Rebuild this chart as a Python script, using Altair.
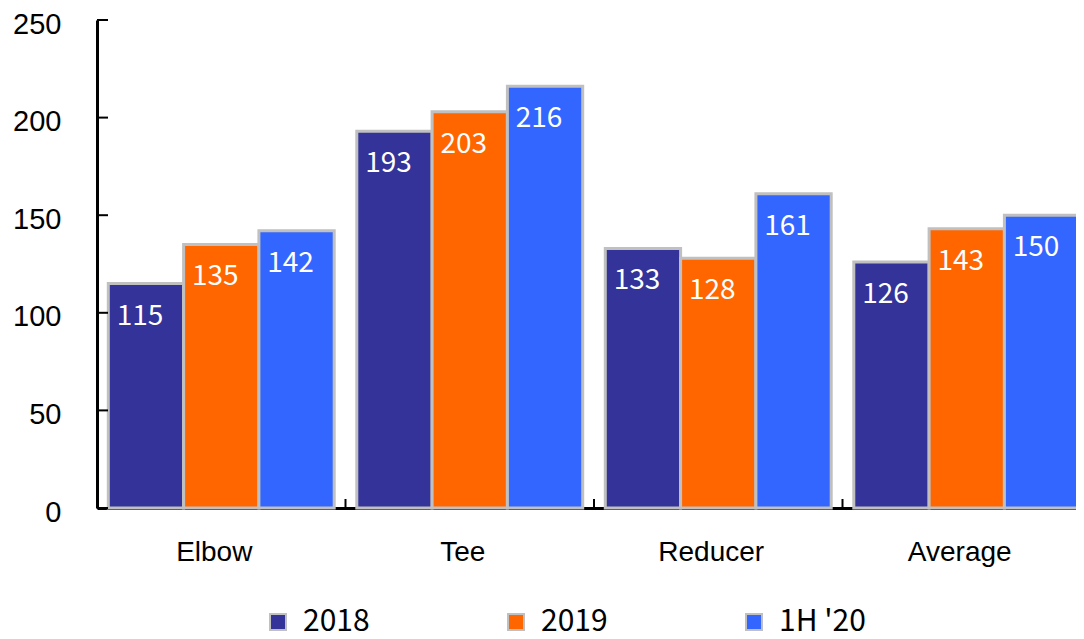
import altair as alt
import pandas as pd

categories = ["Elbow", "Tee", "Reducer", "Average"]
series = ["2018", "2019", "1H '20"]
values_2018 = [115, 193, 133, 126]
values_2019 = [135, 203, 128, 143]
values_1h20 = [142, 216, 161, 150]
y_ticks = [0, 50, 100, 150, 200, 250]
colors = ["#333399", "#FF6600", "#3366FF"]

rows = []
for s, vals in zip(series, [values_2018, values_2019, values_1h20]):
    for c, v in zip(categories, vals):
        rows.append({"category": c, "series": s, "value": v})
df = pd.DataFrame(rows)
df_yt = pd.DataFrame({"value": y_ticks})
df_gt = pd.DataFrame({"category": categories[1:]})

FONT_K = "Noto Sans CJK KR"

x_scale = alt.Scale(domain=categories, paddingInner=0, paddingOuter=0, range=[0, 994])
y_scale = alt.Scale(domain=[0, 250], nice=False)
off_scale = alt.Scale(domain=series, paddingInner=0, paddingOuter=0.15)
col_scale = alt.Scale(domain=series, range=colors)

x_axis = alt.Axis(title=None, ticks=False, labelFont="Liberation Sans",
                  labelFontSize=28, labelColor="black", labelPadding=30,
                  labelOffset=-7, labelAngle=0, domainColor="black", domainWidth=3)
y_axis = alt.Axis(title=None, values=y_ticks, ticks=False, grid=False,
                  labelFont="Liberation Sans", labelFontSize=29, labelColor="black",
                  labelPadding=36, labelOffset=4, domainColor="black", domainWidth=3)

x_enc = alt.X("category:N", scale=x_scale, sort=categories, axis=x_axis)
y_enc = alt.Y("value:Q", scale=y_scale, axis=y_axis)
off_enc = alt.XOffset("series:N", scale=off_scale, sort=series)

base = alt.Chart(df)
bars = base.mark_bar(stroke="#C0C0C0", strokeWidth=3).encode(
    x=x_enc,
    xOffset=off_enc,
    y=y_enc,
    color=alt.Color("series:N", scale=col_scale, sort=series,
                    legend=alt.Legend(title=None, orient="none", direction="horizontal",
                                      legendX=166, legendY=587, symbolType="square",
                                      symbolSize=256, symbolStrokeColor="#C0C0C0",
                                      symbolStrokeWidth=2, symbolOpacity=1,
                                      labelFontSize=30, labelFont=FONT_K,
                                      labelColor="black", labelOffset=10,
                                      columnPadding=131, padding=0)),
)
labels = base.mark_text(align="center", baseline="alphabetic", dx=-6, dy=41,
                        color="white", fontSize=28, font=FONT_K).encode(
    x=x_enc,
    xOffset=off_enc,
    y=y_enc,
    text=alt.Text("value:Q"),
)
yticks = alt.Chart(df_yt).mark_rule(color="black", strokeWidth=2).encode(
    y=y_enc,
    x=alt.value(0),
    x2=alt.value(11),
)
xticks = alt.Chart(df_gt).mark_rule(color="black", strokeWidth=2).encode(
    x=alt.X("category:N", scale=x_scale, sort=categories, bandPosition=0, axis=x_axis),
    y=alt.value(479),
    y2=alt.value(488),
)

chart = alt.layer(bars, labels, yticks, xticks).properties(
    width=979, height=488,
    padding={"left": 89, "top": 12, "right": 0, "bottom": 131},
    autosize=alt.AutoSizeParams(type="none"),
).configure_view(stroke=None)

chart.save("out.html", embed_options={"renderer": "svg", "actions": False})
